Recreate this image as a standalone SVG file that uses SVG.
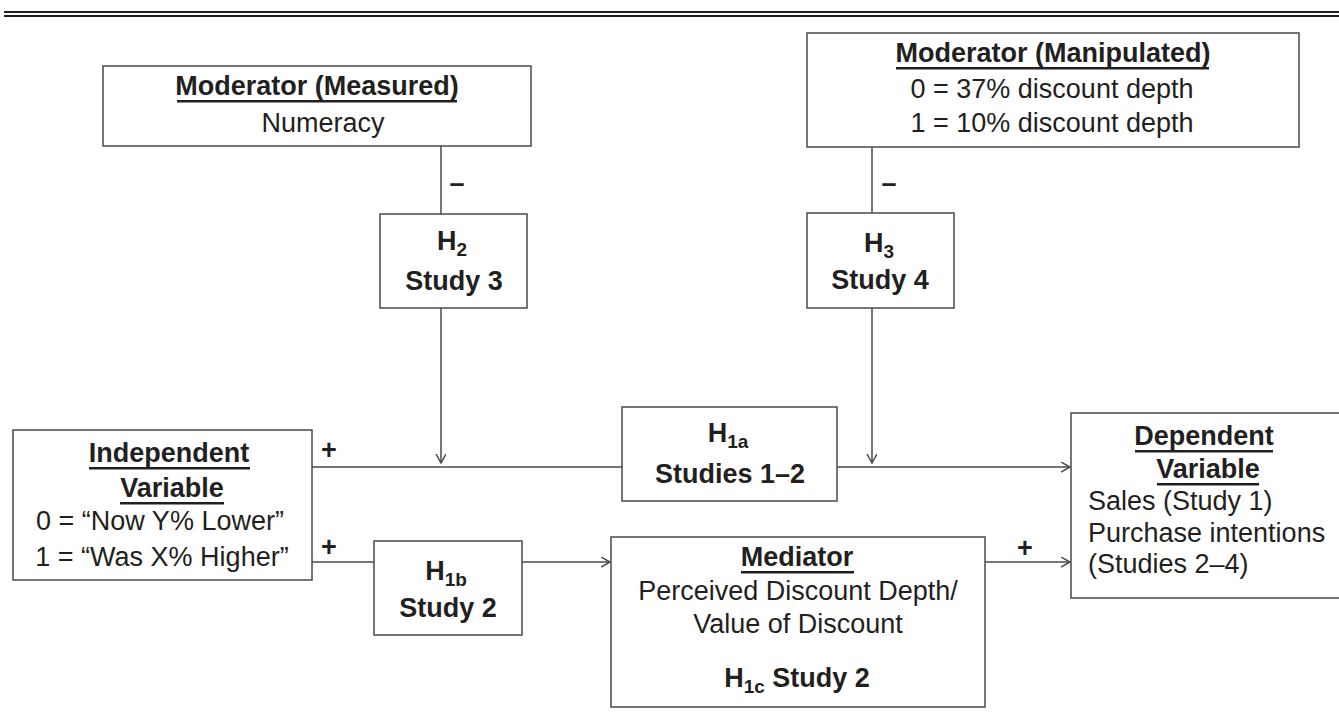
<svg xmlns="http://www.w3.org/2000/svg" width="1339" height="717" viewBox="0 0 1339 717">
<defs>
<style>
text{font-family:"Liberation Sans",Arial,sans-serif;font-size:27px;fill:#231f20}
.b{font-weight:bold}
.m{text-anchor:middle}
.ul{fill:#231f20}
.box{fill:#fff;stroke:#4a4a4a;stroke-width:1.5}
.ln{fill:none;stroke:#4a4a4a;stroke-width:1.5}
.arr{marker-end:url(#ah)}
</style>
<marker id="ah" markerUnits="userSpaceOnUse" markerWidth="12" markerHeight="12" refX="9" refY="5" orient="auto">
<path d="M0,0 L9,5 L0,10" fill="none" stroke="#4a4a4a" stroke-width="1.5"/>
</marker>
</defs>
<rect width="1339" height="717" fill="#fff"/>
<rect x="4" y="11" width="1335" height="2" fill="#231f20"/>
<rect x="4" y="15" width="1335" height="2" fill="#231f20"/>

<g id="connectors">
<path class="ln" d="M441,146 V214"/>
<path class="ln" d="M872,147 V213"/>
<path class="ln arr" d="M441,308 V463"/>
<path class="ln arr" d="M872,308 V463"/>
<path class="ln" d="M312,467 H622"/>
<path class="ln arr" d="M837,467 H1070"/>
<path class="ln" d="M312,562 H374"/>
<path class="ln arr" d="M522,562 H610"/>
<path class="ln arr" d="M985,562 H1070"/>
<text class="b m" x="457" y="192">–</text>
<text class="b m" x="889" y="192">–</text>
<text class="b m" x="329" y="459">+</text>
<text class="b m" x="329" y="556">+</text>
<text class="b m" x="1025" y="557">+</text>
</g>

<g id="mod-measured">
<rect class="box" x="103" y="66" width="428" height="80"/>
<text class="b m" x="317" y="95">Moderator (Measured)</text>
<rect class="ul" x="177" y="100" width="280" height="2.5"/>
<text class="m" x="323" y="132">Numeracy</text>
</g>

<g id="mod-manipulated">
<rect class="box" x="807" y="33" width="492" height="114"/>
<text class="b m" x="1053" y="62">Moderator (Manipulated)</text>
<rect class="ul" x="896" y="67" width="313" height="2.5"/>
<text class="m" x="1052" y="98">0 = 37% discount depth</text>
<text class="m" x="1052" y="132">1 = 10% discount depth</text>
</g>

<g id="h2">
<rect class="box" x="380" y="214" width="147" height="94"/>
<text class="b m" x="452" y="250">H<tspan font-size="19" dy="6">2</tspan></text>
<text class="b m" x="454" y="290">Study 3</text>
</g>

<g id="h3">
<rect class="box" x="807" y="213" width="147" height="95"/>
<text class="b m" x="879" y="252">H<tspan font-size="19" dy="6">3</tspan></text>
<text class="b m" x="880" y="289">Study 4</text>
</g>

<g id="iv">
<rect class="box" x="13" y="430" width="299" height="150"/>
<text class="b m" x="169" y="462">Independent</text>
<rect class="ul" x="89" y="467" width="161" height="2.5"/>
<text class="b m" x="172" y="497">Variable</text>
<rect class="ul" x="120" y="502" width="104" height="2.5"/>
<text class="m" x="160" y="530">0 = “Now Y% Lower”</text>
<text class="m" x="162" y="566">1 = “Was X% Higher”</text>
</g>

<g id="h1a">
<rect class="box" x="622" y="407" width="215" height="94"/>
<text class="b m" x="728" y="442">H<tspan font-size="19" dy="6">1a</tspan></text>
<text class="b m" x="730" y="483">Studies 1–2</text>
</g>

<g id="h1b">
<rect class="box" x="374" y="541" width="148" height="94"/>
<text class="b m" x="446" y="580">H<tspan font-size="19" dy="6">1b</tspan></text>
<text class="b m" x="448" y="617">Study 2</text>
</g>

<g id="mediator">
<rect class="box" x="611" y="537" width="374" height="170"/>
<text class="b m" x="797" y="566">Mediator</text>
<rect class="ul" x="741" y="571" width="113" height="2.5"/>
<text class="m" x="798" y="600">Perceived Discount Depth/</text>
<text class="m" x="798" y="633">Value of Discount</text>
<text class="b m" x="797" y="687">H<tspan font-size="19" dy="6">1c</tspan><tspan dy="-6"> Study 2</tspan></text>
</g>

<g id="dv">
<rect class="box" x="1071" y="413" width="275" height="185"/>
<text class="b m" x="1204" y="445">Dependent</text>
<rect class="ul" x="1135" y="450" width="138" height="2.5"/>
<text class="b m" x="1208" y="478">Variable</text>
<rect class="ul" x="1157" y="483" width="102" height="2.5"/>
<text x="1088" y="510">Sales (Study 1)</text>
<text x="1088" y="542">Purchase intentions</text>
<text x="1088" y="573">(Studies 2–4)</text>
</g>
</svg>
